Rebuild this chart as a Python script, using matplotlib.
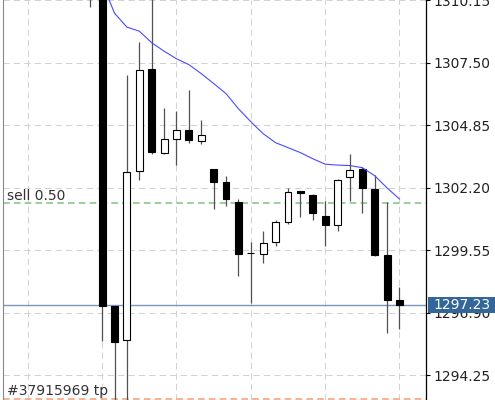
import numpy as np
import matplotlib.pyplot as plt
from matplotlib.transforms import blended_transform_factory
from matplotlib.patches import Rectangle

# candles (OHLC) ============================================================
opens  = [1311.00, 1311.20, 1297.20, 1295.75, 1302.93, 1307.26, 1303.70, 1304.28, 1304.66,
          1304.19, 1303.00, 1302.44, 1301.62, 1299.46, 1299.40, 1299.89, 1300.74, 1302.07,
          1301.89, 1301.03, 1300.63, 1302.68, 1303.01, 1302.16, 1299.34, 1297.46]
highs  = [1311.30, 1311.40, 1297.20, 1307.00, 1308.40, 1310.60, 1305.59, 1305.45, 1306.37,
          1305.10, 1303.00, 1302.72, 1301.73, 1299.89, 1300.36, 1300.86, 1302.20, 1302.08,
          1301.95, 1301.66, 1302.58, 1303.64, 1303.07, 1302.76, 1301.59, 1298.02]
lows   = [1309.87, 1295.73, 1292.60, 1292.90, 1302.54, 1303.63, 1303.66, 1303.18, 1304.11,
          1304.05, 1301.29, 1301.42, 1298.48, 1297.31, 1299.03, 1299.72, 1300.69, 1300.95,
          1300.84, 1299.75, 1300.39, 1301.66, 1301.12, 1299.33, 1296.05, 1296.22]
closes = [1310.50, 1297.21, 1295.68, 1302.88, 1307.22, 1303.71, 1304.28, 1304.66, 1304.25,
          1304.46, 1302.45, 1301.72, 1299.41, 1299.46, 1299.85, 1300.74, 1302.01, 1301.99,
          1301.15, 1300.64, 1302.54, 1302.96, 1302.18, 1299.36, 1297.44, 1297.23]

# media movel
ma = [1311.60, 1310.90, 1309.61, 1309.02, 1308.85, 1308.36, 1308.00, 1307.68, 1307.43,
      1307.05, 1306.63, 1306.20, 1305.56, 1305.01, 1304.50, 1304.12, 1303.91, 1303.70,
      1303.44, 1303.21, 1303.17, 1303.15, 1303.06, 1302.72, 1302.20, 1301.73]

price_ticks = [1294.25, 1296.90, 1299.55, 1302.20, 1304.85, 1307.50, 1310.15]
grid_x = [-5, 1, 7, 13, 19, 25]

sell_level = 1301.55
sell_label = 'sell 0.50'
tp_level = 1293.27
tp_label = '#37915969 tp'
last_price = 1297.23

# figura ====================================================================
fig = plt.figure(figsize=(4.95, 4.0), dpi=100)
ax = fig.add_axes([2.5 / 495, 0, 423.5 / 495, 1])

x = np.arange(len(opens))
o = np.array(opens)
c = np.array(closes)
up = c >= o

# grade
for p in price_ticks:
    ax.axhline(p, color='#d2d2d2', lw=0.75, ls=(0, (6, 4)), zorder=0)
for g in grid_x:
    ax.axvline(g, color='#d2d2d2', lw=0.75, ls=(0, (6, 4)), zorder=0)

# pavios e corpos
ax.vlines(x, lows, highs, color='#505050', lw=0.9, zorder=2)
ax.bar(x[up], (c - o)[up], bottom=o[up], width=0.56, color='white',
       edgecolor='black', linewidth=0.8, zorder=3)
ax.bar(x[~up], (c - o)[~up], bottom=o[~up], width=0.56, color='black',
       edgecolor='black', linewidth=0.8, zorder=3)

ax.plot(x, ma, color='#4a4aff', lw=0.8, zorder=4)

# linhas de ordem
ax.axhline(sell_level, color='#8cc68c', lw=1.2, ls=(0, (4, 2.5)), zorder=1)
ax.axhline(tp_level, color='#f5a582', lw=1.2, ls=(0, (4, 2.5)), zorder=1)
ax.axhline(last_price, color='#7c98b8', lw=1.0, zorder=1)

trans = blended_transform_factory(ax.transAxes, ax.transData)
ax.annotate(sell_label, xy=(0, sell_level), xycoords=trans, xytext=(3.5, 2.3),
            textcoords='offset points', fontsize=10, color='#333333', va='baseline')
ax.annotate(tp_label, xy=(0, tp_level), xycoords=trans, xytext=(3.5, 2.3),
            textcoords='offset points', fontsize=10, color='#333333', va='baseline')

# etiqueta do preco atual
ax.add_patch(Rectangle((1 + 2 / 423.5, last_price - 0.33), 0.2, 0.66, transform=trans,
                       facecolor='#336699', edgecolor='none', clip_on=False, zorder=10))
ax.text(1 + 7 / 423.5, last_price, '%.2f' % last_price, transform=trans, color='white',
        fontsize=10, va='center', ha='left', zorder=11, clip_on=False)

# eixos
ax.set_xlim(-7.04, 27.14)
ax.set_ylim(1310.17 - 400 / 23.585, 1310.17)
ax.yaxis.tick_right()
ax.set_yticks(price_ticks)
ax.set_yticklabels(['%.2f' % p for p in price_ticks])
ax.tick_params(axis='y', direction='out', length=3, width=0.8, pad=2.5,
               labelsize=10, colors='black', labelcolor='#222222')
ax.set_xticks([])
ax.spines['top'].set_visible(False)
ax.spines['bottom'].set_visible(False)
ax.spines['left'].set_color('#888888')
ax.spines['right'].set_color('black')
ax.spines['right'].set_linewidth(0.9)

fig.savefig('out.png', dpi=100)
